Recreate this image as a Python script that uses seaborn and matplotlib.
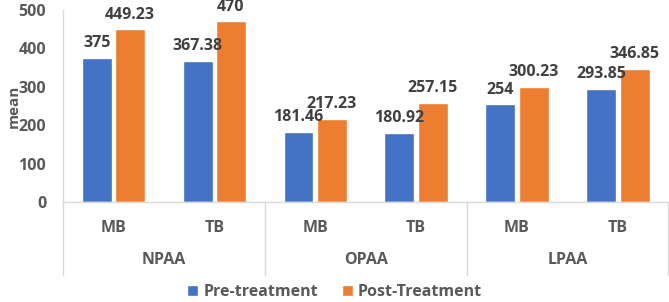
import pandas as pd
import matplotlib
matplotlib.use('Agg')
import matplotlib.pyplot as plt
import matplotlib.transforms as mtransforms
import seaborn as sns

groups = ['NPAA', 'OPAA', 'LPAA']
subgroups = ['MB', 'TB']
series = ['Pre-treatment', 'Post-Treatment']
pre_values = [375, 367.38, 181.46, 180.92, 254, 293.85]
post_values = [449.23, 470, 217.23, 257.15, 300.23, 346.85]
pre_labels = ['375', '367.38', '181.46', '180.92', '254', '293.85']
post_labels = ['449.23', '470', '217.23', '257.15', '300.23', '346.85']
colors = ['#4472C4', '#ED7D31']


def main():
    sns.set_theme(style='white')
    plt.rcParams['font.family'] = ['Open Sans', 'DejaVu Sans']
    plt.rcParams['font.weight'] = 'bold'

    positions = [f'{g}-{s}' for g in groups for s in subgroups]
    df = pd.DataFrame({
        'pos': positions * 2,
        'mean': pre_values + post_values,
        'series': [series[0]] * 6 + [series[1]] * 6,
    })

    fig = plt.figure(figsize=(6.69, 3.02), dpi=100)
    ax = fig.add_axes([0.094, 0.331, 0.905, 0.636])
    sns.barplot(data=df, x='pos', y='mean', hue='series', order=positions,
                hue_order=series, palette=colors, width=0.66, gap=0.1,
                saturation=1, ax=ax, legend=True)

    for container, labs in zip(ax.containers, [pre_labels, post_labels]):
        ax.bar_label(container, labels=labs, padding=5, fontsize=11.5,
                     fontweight='bold', color='#404040')

    ax.set_ylim(0, 500)
    ax.set_yticks(range(0, 501, 100))
    ax.set_xlim(-0.5, 5.5)
    ax.tick_params(axis='y', labelsize=11.5, labelcolor='#595959', length=0, pad=12)
    ax.set_xticks(range(6))
    ax.set_xticklabels(subgroups * 3)
    ax.tick_params(axis='x', labelsize=11.5, labelcolor='#595959', length=0, pad=13)
    ax.set_xlabel('')
    ax.set_ylabel('mean', fontsize=11, color='#595959', fontweight='bold')
    ax.yaxis.set_label_coords(-0.07, 0.5)

    for side in ['top', 'right']:
        ax.spines[side].set_visible(False)
    for side in ['left', 'bottom']:
        ax.spines[side].set_color('#D9D9D9')
        ax.spines[side].set_linewidth(1)

    # multi-level category axis
    trans = mtransforms.blended_transform_factory(ax.transData, ax.transAxes)
    for xs in [-0.5, 1.5, 3.5, 5.5]:
        ax.plot([xs, xs], [0, -0.38], color='#D9D9D9', lw=1,
                transform=trans, clip_on=False)
    for i, g in enumerate(groups):
        ax.text(2 * i + 0.5, -0.30, g, transform=trans, ha='center', va='center',
                fontsize=11.5, fontweight='bold', color='#595959')

    handles, labels = ax.get_legend_handles_labels()
    ax.get_legend().remove()
    fig.legend(handles, labels, loc='lower center', bbox_to_anchor=(0.5, -0.04),
               ncol=2, frameon=False, fontsize=11.5, handlelength=0.7,
               handleheight=0.7, handletextpad=0.3, columnspacing=1.5,
               labelcolor='#595959')

    fig.savefig('out.png', dpi=100)


if __name__ == "__main__":
    main()
